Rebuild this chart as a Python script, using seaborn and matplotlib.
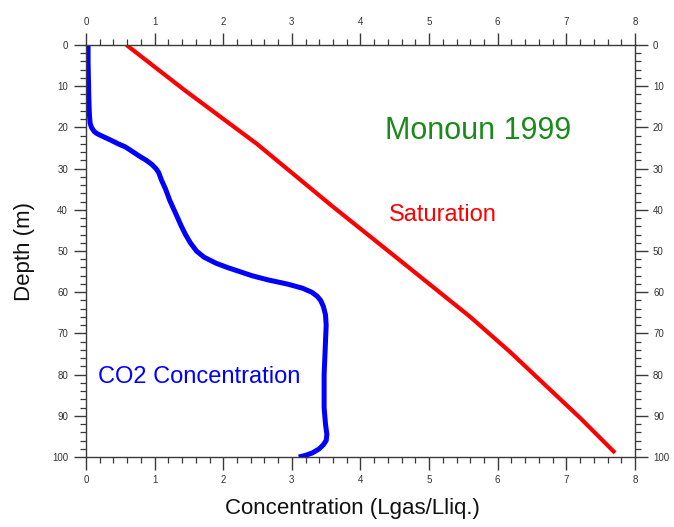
import matplotlib
matplotlib.use("Agg")
import matplotlib.pyplot as plt
from matplotlib.ticker import MultipleLocator
import pandas as pd
import seaborn as sns

# CO2 profile of Lake Monoun (1999): dissolved gas vs. depth
co2_depth = [0, 4, 8, 12, 15, 17, 19, 20, 21, 21.5, 22, 23, 24, 24.7, 26,
             27, 28, 29, 30, 31, 32.8, 35, 37.7, 41, 44, 46, 48, 50, 51.5,
             53, 54, 55, 56, 57, 58, 59, 60, 61, 62, 63.5, 65.5, 68, 72, 80,
             88, 92, 94.5, 96, 97, 98, 99, 99.6, 100]
co2_conc = [0.03, 0.03, 0.035, 0.04, 0.045, 0.05, 0.06, 0.08, 0.12, 0.16,
            0.22, 0.35, 0.47, 0.57, 0.69, 0.78, 0.88, 0.96, 1.02, 1.06, 1.1,
            1.16, 1.22, 1.31, 1.39, 1.45, 1.52, 1.61, 1.72, 1.9, 2.06, 2.24,
            2.42, 2.65, 2.93, 3.15, 3.29, 3.37, 3.42, 3.46, 3.49, 3.5, 3.49,
            3.47, 3.47, 3.49, 3.51, 3.5, 3.46, 3.4, 3.3, 3.2, 3.1]

# Saturation concentration vs. depth
sat_depth = [0, 11, 24, 39, 51, 66, 74.5, 90.5, 99]
sat_conc = [0.59, 1.44, 2.49, 3.58, 4.48, 5.6, 6.18, 7.2, 7.71]

title_text = "Monoun 1999"
sat_label = "Saturation"
co2_label = "CO2 Concentration"
x_label = "Concentration (Lgas/Lliq.)"
y_label = "Depth (m)"

co2_df = pd.DataFrame({"depth": co2_depth, "conc": co2_conc})
sat_df = pd.DataFrame({"depth": sat_depth, "conc": sat_conc})

sns.set_style("ticks")
plt.rcParams["font.family"] = ["Liberation Sans", "DejaVu Sans"]

fig = plt.figure(figsize=(6.74, 5.27), dpi=100)
ax = fig.add_axes([0.1276, 0.1328, 0.8145, 0.7818])

sns.lineplot(data=sat_df, x="conc", y="depth", orient="y", sort=False,
             estimator=None, color="#ff0000", linewidth=3.0, ax=ax)
sns.lineplot(data=co2_df, x="conc", y="depth", orient="y", sort=False,
             estimator=None, color="#0000ff", linewidth=3.6, ax=ax)
for line in ax.get_lines():
    line.set_solid_joinstyle("round")
    line.set_solid_capstyle("butt")

ax.set_xlim(0, 8)
ax.set_ylim(100, 0)

axis_col = "#3a3a3a"
for side in ["left", "right", "top", "bottom"]:
    ax.spines[side].set_visible(True)
    ax.spines[side].set_color(axis_col)
    ax.spines[side].set_linewidth(1.0)

ax.xaxis.set_major_locator(MultipleLocator(1))
ax.xaxis.set_minor_locator(MultipleLocator(0.2))
ax.yaxis.set_major_locator(MultipleLocator(10))
ax.yaxis.set_minor_locator(MultipleLocator(2))

ax.tick_params(which="both", direction="out", colors=axis_col,
               top=True, bottom=True, left=True, right=True,
               labeltop=True, labelbottom=True, labelleft=True, labelright=True,
               labelsize=7, labelcolor="#333333")
ax.tick_params(which="major", length=9, width=1.0, pad=4)
ax.tick_params(which="minor", length=4.5, width=0.9)

ax.set_xlabel(x_label, fontsize=16, color="#111111")
ax.set_ylabel(y_label, fontsize=16, color="#111111")
ax.xaxis.set_label_position("bottom")
ax.yaxis.set_label_position("left")
ax.xaxis.set_label_coords(0.486, -0.10)
ax.yaxis.set_label_coords(-0.092, 0.5)

# annotations in data coordinates
ax.text(5.2, 41.2, sat_label, fontsize=17, color="#ff0000",
        ha="center", va="center")
ax.text(0.17, 80.5, co2_label, fontsize=17, color="#0000ff",
        ha="left", va="center")
ax.text(5.72, 20.8, title_text, fontsize=22, color="#1a8a1a",
        ha="center", va="center")

fig.savefig("out.png", dpi=100)
